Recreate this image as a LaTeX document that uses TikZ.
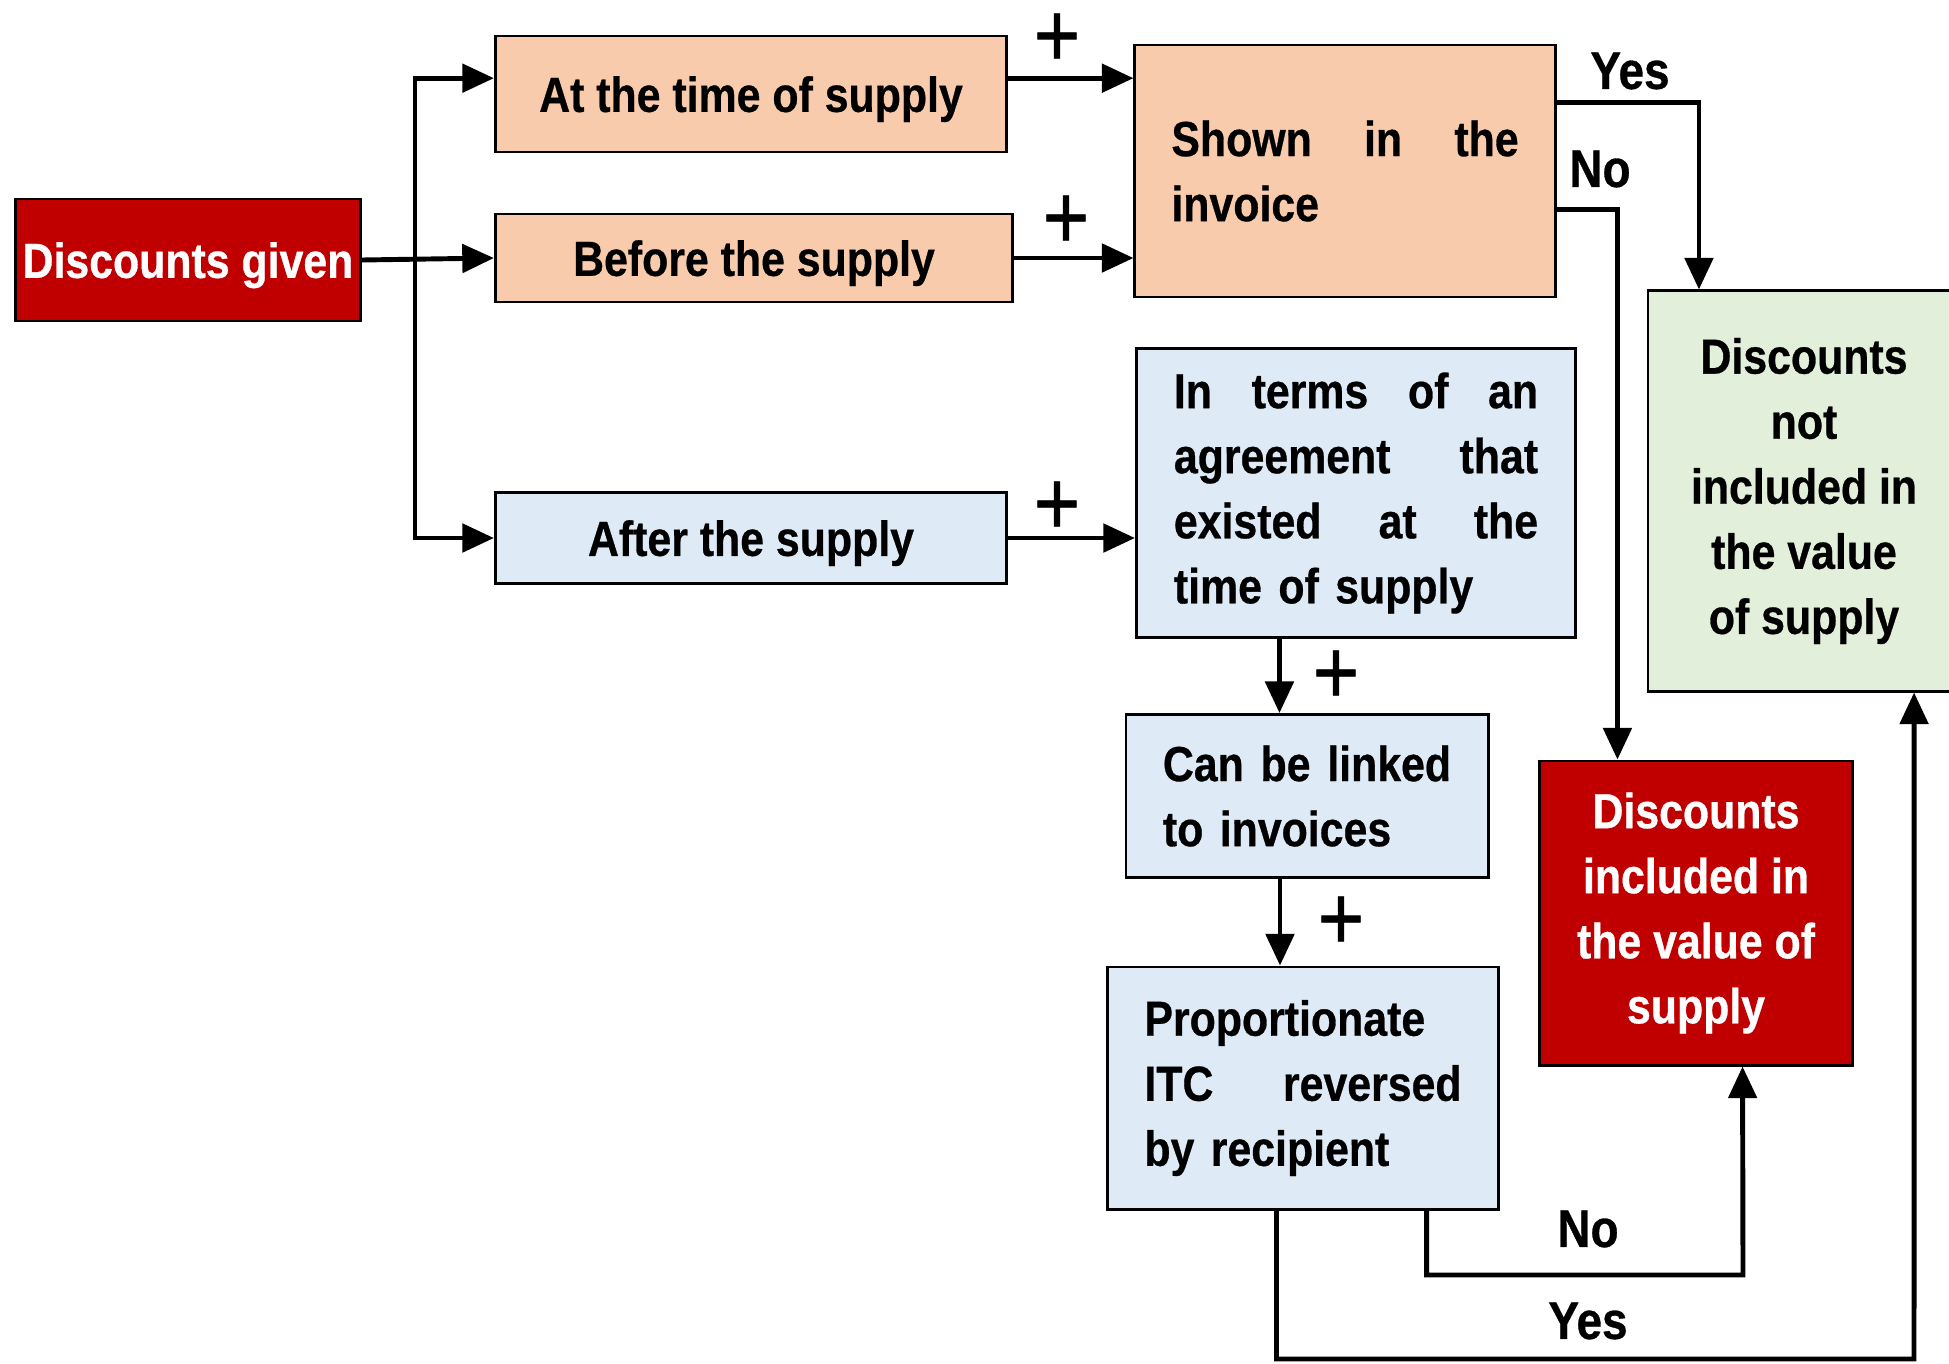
\documentclass[tikz,border=0pt]{standalone}
\usepackage{fontspec}
\setmainfont{Liberation Sans}[FakeStretch=0.87, FakeBold=0.6]
\usetikzlibrary{arrows.meta}
\definecolor{peach}{HTML}{F8CBAD}
\definecolor{paleblue}{HTML}{DEEBF7}
\definecolor{palegreen}{HTML}{E2EFDA}
\definecolor{darkred}{HTML}{C00000}
\tikzstyle{box} = [rectangle, draw=black, line width=0.8pt, inner sep=0pt, font=\fontsize{14}{18.5}\selectfont\bfseries]
\tikzstyle{orangebox} = [box, fill=peach]
\tikzstyle{bluebox} = [box, fill=paleblue]
\tikzstyle{greenbox} = [box, fill=palegreen, align=center]
\tikzstyle{redbox} = [box, fill=darkred, text=white, align=center]
\tikzstyle{oneline} = [text depth=0pt]
\tikzstyle{arrow} = [line width=1.4pt, -{Triangle[length=9pt,width=8pt]}]
\tikzstyle{line} = [line width=1.4pt]
\tikzstyle{plus} = [inner sep=0pt, font=\fontsize{26}{26}\selectfont]
\tikzstyle{answer} = [font=\fontsize{15}{18}\selectfont\bfseries]
\newcommand{\jline}[1]{\leavevmode\hbox to \linewidth{#1}}

\begin{document}
\begin{tikzpicture}[x=0.01cm, y=-0.01cm]
\useasboundingbox (0,0) rectangle (1949,1363);

% Nodes
\node (given) [redbox, oneline, minimum width=3.44cm, minimum height=1.22cm] at (188,260) {Discounts given};
\node (attime) [orangebox, oneline, minimum width=5.11cm, minimum height=1.16cm] at (751,94) {At the time of supply};
\node (before) [orangebox, oneline, minimum width=5.17cm, minimum height=0.88cm] at (754,258) {Before the supply};
\node (after) [bluebox, oneline, minimum width=5.11cm, minimum height=0.91cm] at (751,538) {After the supply};
\node (shown) [orangebox, minimum width=4.20cm, minimum height=2.52cm, text width=3.47cm] at (1345,171)
  {\jline{Shown\hfill in\hfill the}\\invoice};
\node (terms) [bluebox, minimum width=4.39cm, minimum height=2.89cm, text width=3.64cm] at (1356,493)
  {\jline{In\hfill terms\hfill of\hfill an}\\\jline{agreement\hfill that}\\\jline{existed\hfill at\hfill the}\\time of supply};
\node (linked) [bluebox, minimum width=3.62cm, minimum height=1.63cm, text width=2.88cm] at (1307,796)
  {\jline{Can\hfill be\hfill linked}\\to invoices};
\node (prop) [bluebox, minimum width=3.91cm, minimum height=2.42cm, text width=3.17cm] at (1303,1088)
  {Proportionate\\\jline{ITC\hfill reversed}\\by recipient};
\node (incl) [redbox, minimum width=3.13cm, minimum height=3.04cm] at (1696,913)
  {Discounts\\included in\\the value of\\supply};
\node (notincl) [greenbox, minimum width=3.12cm, minimum height=4.00cm] at (1804,491)
  {Discounts\\not\\included in\\the value\\of supply};

% Branching
\coordinate (split) at (415,262);
\coordinate (a1) at ([yshift=4.5pt]attime.west);
\coordinate (a2) at ([yshift=4.5pt]attime.east);
\draw [arrow] (given.east) -- (before.west);
\draw [arrow] (split) |- (a1);
\draw [arrow] (split) |- (after.west);

% Arrows to the conditions
\draw [arrow] (a2) -- (a2 -| shown.west);
\draw [arrow] (before.east) -- (before.east -| shown.west);
\draw [arrow] (after.east) -- (after.east -| terms.west);
\node [plus] at (1057,40) {+};
\node [plus] at (1066,222) {+};
\node [plus] at (1057,508) {+};

% Shown in the invoice
\draw [arrow] ([yshift=19.6pt]shown.east) -| ([xshift=-1.05cm]notincl.north);
\draw [arrow] ([yshift=-11pt]shown.east) -| ([xshift=-0.785cm]incl.north);
\node [answer] at (1630,71) {Yes};
\node [answer] at (1600,169) {No};

% After the supply
\coordinate (t1) at ([xshift=-0.765cm]terms.south);
\coordinate (l1) at ([xshift=-0.27cm]linked.south);
\draw [arrow] (t1) -- (t1 |- linked.north);
\draw [arrow] (l1) -- (l1 |- prop.north);
\node [plus] at (1336,677) {+};
\node [plus] at (1341,923) {+};

% Proportionate ITC reversed
\coordinate (nocorner) at (1743,1275);
\coordinate (yescorner) at (1914,1359);
\draw [arrow] ([xshift=1.235cm]prop.south) |- (nocorner) -- ([xshift=0.465cm]incl.south);
\draw [arrow] ([xshift=-0.265cm]prop.south) |- (yescorner) -- ([xshift=1.10cm]notincl.south);
\node [answer] at (1588,1229) {No};
\node [answer] at (1588,1321) {Yes};

\end{tikzpicture}
\end{document}
